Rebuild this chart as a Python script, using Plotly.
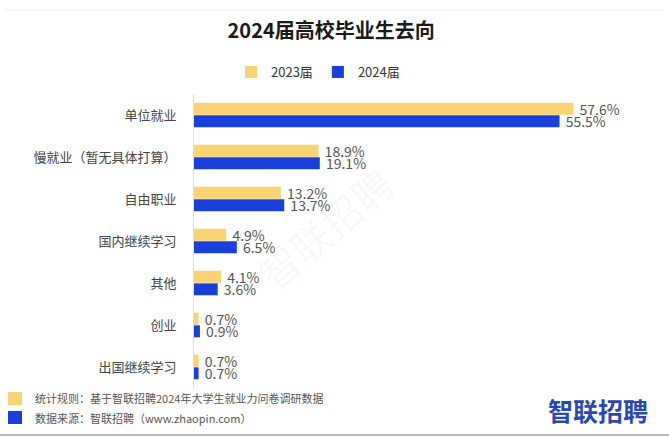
import plotly.graph_objects as go

categories = ["单位就业", "慢就业（暂无具体打算）", "自由职业", "国内继续学习", "其他", "创业", "出国继续学习"]
values_2023 = [57.6, 18.9, 13.2, 4.9, 4.1, 0.7, 0.7]
values_2024 = [55.5, 19.1, 13.7, 6.5, 3.6, 0.9, 0.7]
series_names = ["2023届", "2024届"]
title_text = "2024届高校毕业生去向"
note_rule = "统计规则：基于智联招聘2024年大学生就业力问卷调研数据"
note_source = "数据来源：智联招聘（www.zhaopin.com）"
logo_text = "智联招聘"

W, H = 669, 438
L, R, T, B = 194, 14, 94, 50
PW, PH = W - L - R, H - T - B

def px(x):
    return (x - L) / PW

def py(y):
    return (H - B - y) / PH

YEL = "#FAD472"
BLU = "#1A3FDB"
FONT = "Noto Sans CJK SC, Noto Sans, sans-serif"

fig = go.Figure()
for name, vals, col in [(series_names[0], values_2023, YEL), (series_names[1], values_2024, BLU)]:
    fig.add_trace(go.Bar(
        y=categories, x=vals, name=name, orientation="h",
        marker=dict(color=col, line=dict(width=0)),
        text=[f"\u00a0{v:.1f}%" for v in vals], textposition="outside",
        constraintext="none",
        textfont=dict(size=14, color="#555555", family=FONT),
        cliponaxis=False,
    ))

fig.update_layout(
    width=W, height=H,
    margin=dict(l=L, r=R, t=T, b=B),
    paper_bgcolor="white", plot_bgcolor="white",
    barmode="group", bargap=0.4, bargroupgap=0.05,
    font=dict(family=FONT, color="#333333"),
    title=dict(text=f"<b>{title_text}</b>", x=0.495, xanchor="center", y=0.93, yanchor="middle",
               font=dict(size=20, color="#1a1a1a", family=FONT)),
    legend=dict(orientation="h", x=px(318), xanchor="center", y=py(72), yanchor="middle",
                font=dict(size=13, color="#333333"), traceorder="normal",
                itemsizing="constant", itemwidth=30),
    showlegend=True,
)
fig.update_xaxes(range=[0, 70], visible=False, showgrid=False, zeroline=False)
fig.update_yaxes(autorange="reversed", showline=True, linecolor="#dddddd", linewidth=1,
                 ticks="", ticklabelstandoff=14, showgrid=False,
                 tickfont=dict(size=13, color="#444444", family=FONT))

shapes = [
    dict(type="rect", xref="paper", yref="paper", x0=px(8), x1=px(22), y0=py(392), y1=py(405),
         fillcolor=YEL, line=dict(width=0)),
    dict(type="rect", xref="paper", yref="paper", x0=px(8), x1=px(22), y0=py(411), y1=py(424),
         fillcolor=BLU, line=dict(width=0)),
    dict(type="line", xref="paper", yref="paper", x0=px(5), x1=px(664), y0=py(10), y1=py(10),
         line=dict(color="#eeeeee", width=1)),
    dict(type="line", xref="paper", yref="paper", x0=px(0), x1=px(669), y0=py(435), y1=py(435),
         line=dict(color="#bbbbbb", width=2)),
]
fig.update_layout(shapes=shapes)

annotations = [
    dict(text=note_rule, xref="paper", yref="paper", x=px(33), y=py(398), xanchor="left", yanchor="middle",
         showarrow=False, font=dict(size=11, color="#555555", family=FONT)),
    dict(text=note_source, xref="paper", yref="paper", x=px(33), y=py(418), xanchor="left", yanchor="middle",
         showarrow=False, font=dict(size=11, color="#555555", family=FONT)),
    dict(text=f"<b>{logo_text}</b>", xref="paper", yref="paper", x=px(650), y=py(410), xanchor="right", yanchor="middle",
         showarrow=False, font=dict(size=25, color="#2a47b5", family=FONT)),
    dict(text=logo_text, xref="paper", yref="paper", x=px(325), y=py(228), xanchor="center", yanchor="middle",
         showarrow=False, textangle=-40, font=dict(size=40, color="rgba(0,0,0,0.035)", family=FONT)),
]
fig.update_layout(annotations=annotations)

fig.write_html("out.html")
